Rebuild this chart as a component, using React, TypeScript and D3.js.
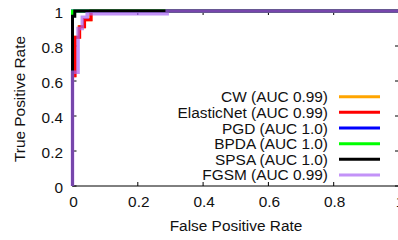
import React, { useEffect, useRef } from 'react';
import * as d3 from 'd3';

// ROC curves (fpr / tpr pairs, step shaped)
const cwFpr = [0, 0, 0.006, 0.006, 0.02, 0.02, 0.036, 0.036, 0.056, 0.056, 1];
const cwTpr = [0, 0.63, 0.63, 0.85, 0.85, 0.91, 0.91, 0.95, 0.95, 1, 1];
const elasticFpr = [0, 0, 0.008, 0.008, 0.022, 0.022, 0.037, 0.037, 0.057, 0.057, 1];
const elasticTpr = [0, 0.63, 0.63, 0.85, 0.85, 0.91, 0.91, 0.95, 0.95, 1, 1];
const pgdFpr = [0, 0, 1];
const pgdTpr = [0, 1, 1];
const bpdaFpr = [0, 0, 1];
const bpdaTpr = [0, 1, 1];
const spsaFpr = [0, 0, 0.007, 0.007, 1];
const spsaTpr = [0, 0.97, 0.97, 1, 1];
const fgsmFpr = [0, 0, 0.017, 0.017, 0.03, 0.03, 0.045, 0.045, 0.29, 0.29, 1];
const fgsmTpr = [0, 0.65, 0.65, 0.9, 0.9, 0.965, 0.965, 0.985, 0.985, 1, 1];

const seriesNames = ['CW (AUC 0.99)', 'ElasticNet (AUC 0.99)', 'PGD (AUC 1.0)', 'BPDA (AUC 1.0)', 'SPSA (AUC 1.0)', 'FGSM (AUC 0.99)'];
const seriesColors = ['#ffa500', '#ff0000', '#0000ff', '#00ff00', '#000000', '#aa64f5'];

const xTicks = [0, 0.2, 0.4, 0.6, 0.8, 1];
const yTicks = [0, 0.2, 0.4, 0.6, 0.8, 1];

const FONT = '"Liberation Sans", Arial, sans-serif';

const App = () => {
  const ref = useRef<SVGSVGElement>(null);

  useEffect(() => {
    const svg = d3.select(ref.current);
    svg.selectAll('*').remove();

    const x = d3.scaleLinear().domain([0, 1]).range([72.5, 399]);
    const y = d3.scaleLinear().domain([0, 1]).range([186, 11]);

    const g = svg.append('g');

    // border box
    g.append('rect')
      .attr('x', x(0))
      .attr('y', y(1))
      .attr('width', x(1) - x(0))
      .attr('height', y(0) - y(1))
      .attr('fill', 'none')
      .attr('stroke', '#000')
      .attr('stroke-width', 1);

    // ticks, mirrored, pointing inward
    const tl = 4;
    xTicks.forEach(t => {
      g.append('line').attr('x1', x(t)).attr('x2', x(t)).attr('y1', y(0)).attr('y2', y(0) - tl).attr('stroke', '#000');
      g.append('line').attr('x1', x(t)).attr('x2', x(t)).attr('y1', y(1)).attr('y2', y(1) + tl).attr('stroke', '#000');
      g.append('text')
        .attr('x', x(t) + 1)
        .attr('y', y(0) + 21)
        .attr('text-anchor', 'middle')
        .style('font-family', FONT)
        .style('font-size', '15.4px')
        .attr('fill', '#111')
        .text(String(t));
    });
    yTicks.forEach(t => {
      g.append('line').attr('x1', x(0)).attr('x2', x(0) + tl).attr('y1', y(t)).attr('y2', y(t)).attr('stroke', '#000');
      g.append('line').attr('x1', x(1)).attr('x2', x(1) - tl).attr('y1', y(t)).attr('y2', y(t)).attr('stroke', '#000');
      g.append('text')
        .attr('x', 63)
        .attr('y', y(t) + 6.5)
        .attr('text-anchor', 'end')
        .style('font-family', FONT)
        .style('font-size', '15.4px')
        .attr('fill', '#111')
        .text(String(t));
    });

    // axis titles
    g.append('text')
      .attr('x', 236)
      .attr('y', 230.5)
      .attr('text-anchor', 'middle')
      .style('font-family', FONT)
      .style('font-size', '15.4px')
      .attr('fill', '#111')
      .text('False Positive Rate');
    g.append('text')
      .attr('transform', 'translate(25, 99) rotate(-90)')
      .attr('text-anchor', 'middle')
      .style('font-family', FONT)
      .style('font-size', '15.4px')
      .attr('fill', '#111')
      .text('True Positive Rate');

    // curves
    const curves = [
      [cwFpr, cwTpr],
      [elasticFpr, elasticTpr],
      [pgdFpr, pgdTpr],
      [bpdaFpr, bpdaTpr],
      [spsaFpr, spsaTpr],
      [fgsmFpr, fgsmTpr],
    ];
    const line = d3
      .line<[number, number]>()
      .x(d => x(d[0]))
      .y(d => y(d[1]));

    curves.forEach(([fpr, tpr], i) => {
      const pts = fpr.map((f, k) => [f, tpr[k]] as [number, number]);
      g.append('path')
        .attr('d', line(pts))
        .attr('fill', 'none')
        .attr('stroke', seriesColors[i])
        .attr('stroke-width', i === 5 ? 3.5 : 3)
        .attr('stroke-opacity', i === 5 ? 0.7 : 1)
        .attr('stroke-linejoin', 'miter');
    });

    // legend
    const legend = g.append('g');
    seriesNames.forEach((name, i) => {
      const ly = 96.7 + i * 15.65;
      legend
        .append('text')
        .attr('x', 328)
        .attr('y', ly + 5.5)
        .attr('text-anchor', 'end')
        .style('font-family', FONT)
        .style('font-size', '15.4px')
        .attr('fill', '#111')
        .text(name);
      legend
        .append('line')
        .attr('x1', 339)
        .attr('x2', 380)
        .attr('y1', ly)
        .attr('y2', ly)
        .attr('stroke', seriesColors[i])
        .attr('stroke-width', 3)
        .attr('stroke-opacity', i === 5 ? 0.7 : 1);
    });
  }, []);

  return (
    <svg
      ref={ref}
      width={398}
      height={240}
      style={{ position: 'absolute', left: 0, top: 0, background: '#fff' }}
    />
  );
};

export default App;
